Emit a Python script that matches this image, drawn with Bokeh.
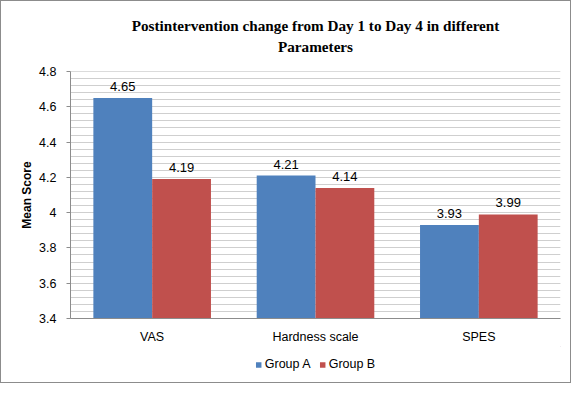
from bokeh.plotting import figure
from bokeh.layouts import column
from bokeh.models import (ColumnDataSource, FactorRange, Range1d, SingleIntervalTicker,
                          CustomJSTickFormatter, Title, Legend, LegendItem)
from bokeh.transform import dodge
from bokeh.core.properties import value
from bokeh.embed import file_html
from bokeh.resources import INLINE

categories = ["VAS", "Hardness scale", "SPES"]
group_a = [4.65, 4.21, 3.93]
group_b = [4.19, 4.14, 3.99]
series_names = ["Group A", "Group B"]
title_lines = ["Postintervention change from Day 1 to Day 4 in different", "Parameters"]
y_label = "Mean Score"
y_min, y_max, y_step = 3.4, 4.8, 0.2

src = ColumnDataSource(dict(
    cat=categories,
    a=group_a,
    b=group_b,
    a_txt=[f"{v:g}" for v in group_a],
    b_txt=[f"{v:g}" for v in group_b],
))

FONT = "Liberation Sans"
BLUE = "#4F81BD"
RED = "#C0504D"
GRID = "#cfcfcf"
AXIS = "#8c8c8c"
W = 569

p = figure(x_range=FactorRange(*categories), y_range=Range1d(y_min, y_max + 1e-6),
           width=W, height=345, output_backend="svg", toolbar_location=None,
           min_border_left=69, min_border_right=10, min_border_bottom=27, min_border_top=70)
p.outline_line_color = None

ra = p.vbar(x=dodge("cat", -0.18, range=p.x_range), top="a", bottom=y_min, width=0.36,
            source=src, fill_color=BLUE, line_color=None)
rb = p.vbar(x=dodge("cat", 0.18, range=p.x_range), top="b", bottom=y_min, width=0.36,
            source=src, fill_color=RED, line_color=None)

for col, txt, off in (("a", "a_txt", -0.18), ("b", "b_txt", 0.18)):
    p.text(x=dodge("cat", off, range=p.x_range), y=col, text=txt, source=src,
           text_font=value(FONT), text_font_size="13px", text_color="#000000",
           text_align="center", text_baseline="bottom", y_offset=-7)

# Y axis
p.yaxis.ticker = SingleIntervalTicker(interval=y_step, num_minor_ticks=5)
p.yaxis.formatter = CustomJSTickFormatter(code="return (Math.round(tick*10)/10).toString();")
p.yaxis.axis_label = y_label
p.yaxis.axis_label_text_font = FONT
p.yaxis.axis_label_text_font_style = "bold"
p.yaxis.axis_label_text_font_size = "12px"
p.yaxis.axis_label_text_color = "#000000"
p.yaxis.axis_label_standoff = 2
p.yaxis.major_label_text_font = FONT
p.yaxis.major_label_text_font_size = "12.5px"
p.yaxis.major_label_text_color = "#000000"
p.yaxis.axis_line_color = AXIS
p.yaxis.major_tick_line_color = AXIS
p.yaxis.major_tick_out = 4
p.yaxis.major_tick_in = 0
p.yaxis.minor_tick_line_color = None
p.yaxis.major_label_standoff = 10

# X axis
p.xaxis.axis_line_color = AXIS
p.xaxis.major_tick_line_color = None
p.xaxis.minor_tick_line_color = None
p.xaxis.major_label_text_font = FONT
p.xaxis.major_label_text_font_size = "12.5px"
p.xaxis.major_label_text_color = "#000000"
p.xaxis.major_label_standoff = 5

# Grid
p.xgrid.grid_line_color = None
p.ygrid.grid_line_color = GRID
p.ygrid.minor_grid_line_color = GRID

# Title (two lines) with a small spacer next to the plot area
p.add_layout(Title(text=" ", text_font_size="12px", standoff=0), "above")
for line in reversed(title_lines):
    p.add_layout(Title(text=line, align="center", text_font="Liberation Serif",
                       text_font_size="15.2px", text_font_style="bold",
                       text_color="#000000", standoff=2), "above")

# Legend strip below the chart (proxy glyphs lie outside the visible range)
lg = figure(width=W, height=36, output_backend="svg", toolbar_location=None,
            x_range=Range1d(0, 1), y_range=Range1d(0, 1),
            x_axis_location=None, y_axis_location=None,
            min_border=0, min_border_left=0, min_border_right=0,
            min_border_top=0, min_border_bottom=0)
lg.outline_line_color = None
lg.grid.visible = False
proxy = ColumnDataSource(dict(x=[5], top=[5]))
la = lg.vbar(x="x", top="top", bottom=4, width=0.1, source=proxy, fill_color=BLUE, line_color=None)
lb = lg.vbar(x="x", top="top", bottom=4, width=0.1, source=proxy, fill_color=RED, line_color=None)
legend = Legend(items=[LegendItem(label=series_names[0], renderers=[la], index=0),
                       LegendItem(label=series_names[1], renderers=[lb], index=0)],
                orientation="horizontal", location="center",
                label_text_font=FONT, label_text_font_size="12.5px", label_text_color="#000000",
                glyph_width=7, glyph_height=7, spacing=8, label_standoff=3,
                border_line_color=None, background_fill_alpha=0, padding=2, margin=0)
lg.add_layout(legend)

layout = column(p, lg, spacing=0)
layout.styles = {"border": "1px solid #8c8c8c"}

open("out.html", "w").write(file_html(layout, INLINE))
